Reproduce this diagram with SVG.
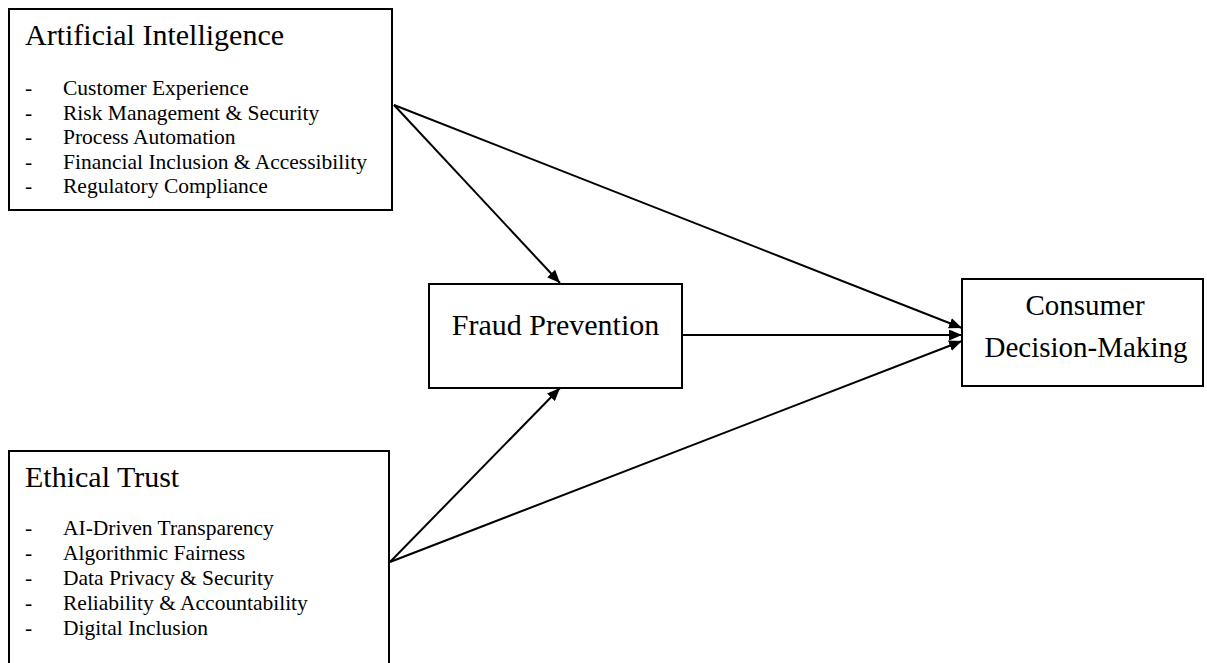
<svg xmlns="http://www.w3.org/2000/svg" width="1207" height="663" viewBox="0 0 1207 663">
<style>
.box{fill:#fff;stroke:#000;stroke-width:2}
.t{font-family:"Liberation Serif","Times New Roman",serif;fill:#000}
.h{font-size:30px}
.i{font-size:21.5px}
.c{stroke:#000;stroke-width:2;fill:none}
</style>
<defs>
<marker id="ah" viewBox="0 0 13 11" refX="13" refY="5.5" markerWidth="13" markerHeight="11" markerUnits="userSpaceOnUse" orient="auto">
<path d="M0,0 L13,5.5 L0,11 z" fill="#000"/>
</marker>
</defs>
<rect width="1207" height="663" fill="#fff"/>
<g id="connectors">
<line class="c" x1="394" y1="105" x2="560" y2="283" marker-end="url(#ah)"/>
<line class="c" x1="394" y1="105" x2="962" y2="328" marker-end="url(#ah)"/>
<line class="c" x1="682" y1="335" x2="962" y2="335" marker-end="url(#ah)"/>
<line class="c" x1="390" y1="562" x2="560" y2="388" marker-end="url(#ah)"/>
<line class="c" x1="390" y1="562" x2="962" y2="341" marker-end="url(#ah)"/>
</g>
<g id="ai">
<rect class="box" x="9" y="9" width="383" height="201"/>
<text class="t h" x="25" y="45">Artificial Intelligence</text>
<g class="t i">
<text x="25" y="95">-</text><text x="63" y="95">Customer Experience</text>
<text x="25" y="119.5">-</text><text x="63" y="119.5">Risk Management &amp; Security</text>
<text x="25" y="144">-</text><text x="63" y="144">Process Automation</text>
<text x="25" y="168.5">-</text><text x="63" y="168.5">Financial Inclusion &amp; Accessibility</text>
<text x="25" y="193">-</text><text x="63" y="193">Regulatory Compliance</text>
</g>
</g>
<g id="ethical">
<rect class="box" x="9" y="451" width="380" height="230"/>
<text class="t h" x="25" y="487">Ethical Trust</text>
<g class="t i">
<text x="25" y="535">-</text><text x="63" y="535">AI-Driven Transparency</text>
<text x="25" y="560">-</text><text x="63" y="560">Algorithmic Fairness</text>
<text x="25" y="585">-</text><text x="63" y="585">Data Privacy &amp; Security</text>
<text x="25" y="610">-</text><text x="63" y="610">Reliability &amp; Accountability</text>
<text x="25" y="635">-</text><text x="63" y="635">Digital Inclusion</text>
</g>
</g>
<g id="fraud">
<rect class="box" x="429" y="284" width="253" height="104"/>
<text class="t h" x="555.5" y="335" text-anchor="middle">Fraud Prevention</text>
</g>
<g id="consumer">
<rect class="box" x="962" y="279" width="241" height="107"/>
<text class="t h" x="1085" y="315" text-anchor="middle" style="font-size:29px">Consumer</text>
<text class="t h" x="1086" y="357" text-anchor="middle" style="font-size:29px">Decision-Making</text>
</g>
</svg>
